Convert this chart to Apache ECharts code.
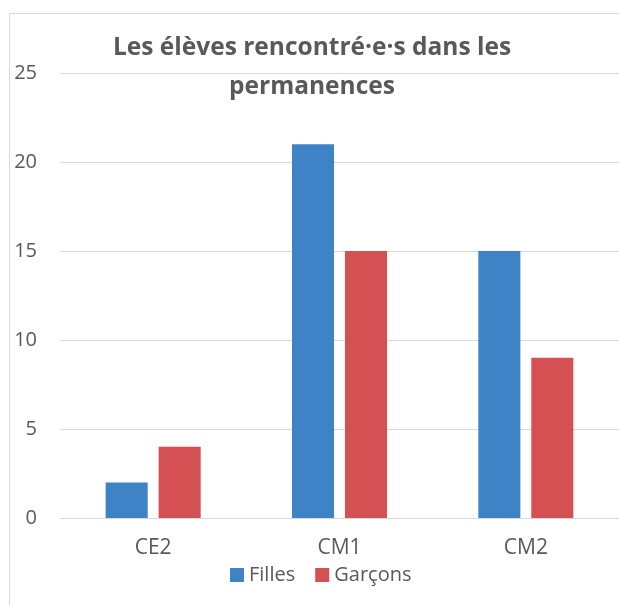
<!DOCTYPE html>
<html>
<head>
<meta charset="utf-8">
<script src="https://cdn.jsdelivr.net/npm/echarts@6/dist/echarts.min.js"></script>
<style>
  html, body { margin: 0; padding: 0; background: #fff; }
  #chart { width: 619px; height: 605px; }
</style>
</head>
<body>
<div id="chart"></div>
<script>
const categories = ['CE2', 'CM1', 'CM2'];
const filles = [2, 21, 15];
const garcons = [4, 15, 9];
const seriesNames = ['Filles', 'Garçons'];

const font = '"Open Sans", sans-serif';
const textGray = '#595959';

const chart = echarts.init(document.getElementById('chart'));
chart.setOption({
  animation: false,
  textStyle: { fontFamily: font },
  graphic: [{
    type: 'rect',
    shape: { x: 9.5, y: 13.5, width: 700, height: 700 },
    style: { fill: 'none', stroke: '#d9d9d9', lineWidth: 1 },
    silent: true
  }],
  title: {
    text: 'Les élèves rencontré·e·s dans les\npermanences',
    left: 307,
    top: 24,
    textAlign: 'center',
    textStyle: {
      fontFamily: font,
      fontSize: 24.5,
      fontWeight: 'bold',
      color: textGray,
      lineHeight: 39
    }
  },
  legend: {
    data: seriesNames,
    bottom: 15,
    left: 225,
    itemWidth: 14,
    itemHeight: 14,
    itemGap: 20,
    itemTextGap: 6,
    icon: 'rect',
    textStyle: { fontFamily: font, fontSize: 20, color: textGray }
  },
  grid: { left: 60, right: 0, top: 73, bottom: 87 },
  xAxis: {
    type: 'category',
    data: categories,
    axisLine: { lineStyle: { color: '#d9d9d9', width: 1 } },
    axisTick: { show: false },
    axisLabel: { fontFamily: font, fontSize: 21, color: textGray, margin: 20 }
  },
  yAxis: {
    type: 'value',
    min: 0,
    max: 25,
    interval: 5,
    axisLine: { show: false },
    axisTick: { show: false },
    splitLine: { lineStyle: { color: '#d9d9d9', width: 1 } },
    axisLabel: { fontFamily: font, fontSize: 20, color: textGray, margin: 23 }
  },
  series: [
    {
      name: seriesNames[0],
      type: 'bar',
      data: filles,
      itemStyle: { color: '#3d83c5' },
      barGap: '26%',
      barCategoryGap: '49%'
    },
    {
      name: seriesNames[1],
      type: 'bar',
      data: garcons,
      itemStyle: { color: '#d45052' }
    }
  ]
});
</script>
</body>
</html>
